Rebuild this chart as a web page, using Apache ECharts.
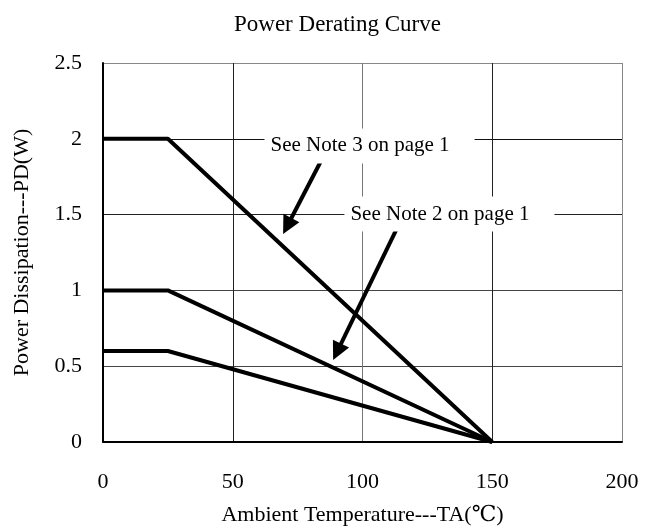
<!DOCTYPE html>
<html>
<head>
<meta charset="utf-8">
<script src="https://cdn.jsdelivr.net/npm/echarts@6/dist/echarts.min.js"></script>
<style>
  html, body { margin: 0; padding: 0; background: #fff; }
  #chart { width: 651px; height: 529px; }
</style>
</head>
<body>
<div id="chart"></div>
<script>
  // curve data: ambient temperature vs power dissipation
  const temps = [0, 25, 150];
  const pd2w = [2, 2, 0];
  const pd1w = [1, 1, 0];
  const pd06w = [0.6, 0.6, 0];

  // annotations, in data coordinates
  const noteText = ['See Note 3 on page 1', 'See Note 2 on page 1'];
  const notePos = [[102.7, 1.953], [133.5, 1.504]];
  const arrowFrom = [[83.8, 1.847], [113.5, 1.418]];
  const arrowTo = [[71.0, 1.425], [90.2, 0.595]];

  const font = 'Liberation Serif, DejaVu Serif, serif';

  let chart = echarts.init(document.getElementById('chart'));

  let curve = (values) => {
    return {
      type: 'line',
      showSymbol: false,
      silent: true,
      lineStyle: { color: '#000', width: 4 },
      data: temps.map((t, i) => [t, values[i]])
    };
  };

  let series = [curve(pd2w), curve(pd1w), curve(pd06w)];

  series[0].markLine = {
    silent: true,
    symbol: ['none', 'triangle'],
    symbolSize: 18,
    label: { show: false },
    lineStyle: { color: '#000', width: 4, type: 'solid' },
    data: arrowFrom.map((p, i) => [{ coord: p }, { coord: arrowTo[i] }])
  };

  series.push({
    type: 'scatter',
    symbolSize: 0,
    silent: true,
    z: 5,
    itemStyle: { opacity: 1 },
    data: notePos.map((p, i) => ({ value: p, name: noteText[i] })),
    label: {
      show: true,
      position: 'inside',
      formatter: (params) => params.name,
      color: '#000',
      fontFamily: font,
      fontSize: 21,
      lineHeight: 21,
      backgroundColor: '#fff',
      padding: [7, 25, 7, 6]
    }
  });

  let option = {
    animation: false,
    title: {
      text: 'Power Derating Curve',
      left: 229,
      top: 8,
      textStyle: { fontFamily: font, fontSize: 23, fontWeight: 'normal', color: '#000' }
    },
    grid: { left: 103, right: 29, top: 63, bottom: 87, outerBoundsMode: 'none' },
    xAxis: {
      type: 'value',
      min: 0,
      max: 200,
      interval: 50,
      name: 'Ambient Temperature---TA(℃)',
      nameLocation: 'middle',
      nameGap: 62,
      nameTextStyle: { fontFamily: font, fontSize: 22, color: '#000' },
      axisLine: { lineStyle: { color: '#000', width: 2 } },
      axisTick: { show: false },
      axisLabel: { margin: 29, fontFamily: font, fontSize: 22, color: '#000' },
      splitLine: { show: true, lineStyle: { color: ['#000', '#222', '#777', '#222', '#888'], width: 1 } }
    },
    yAxis: {
      type: 'value',
      min: 0,
      max: 2.5,
      interval: 0.5,
      name: 'Power Dissipation---PD(W)',
      nameLocation: 'middle',
      nameGap: 70,
      nameTextStyle: { fontFamily: font, fontSize: 22, color: '#000' },
      axisLine: { show: true, lineStyle: { color: '#000', width: 2 } },
      axisTick: { show: false },
      axisLabel: { margin: 21, fontFamily: font, fontSize: 22, color: '#000' },
      splitLine: { show: true, lineStyle: { color: ['#000', '#444', '#444', '#222', '#111', '#888'], width: 1 } }
    },
    series: series
  };

  chart.setOption(option);
</script>
</body>
</html>
